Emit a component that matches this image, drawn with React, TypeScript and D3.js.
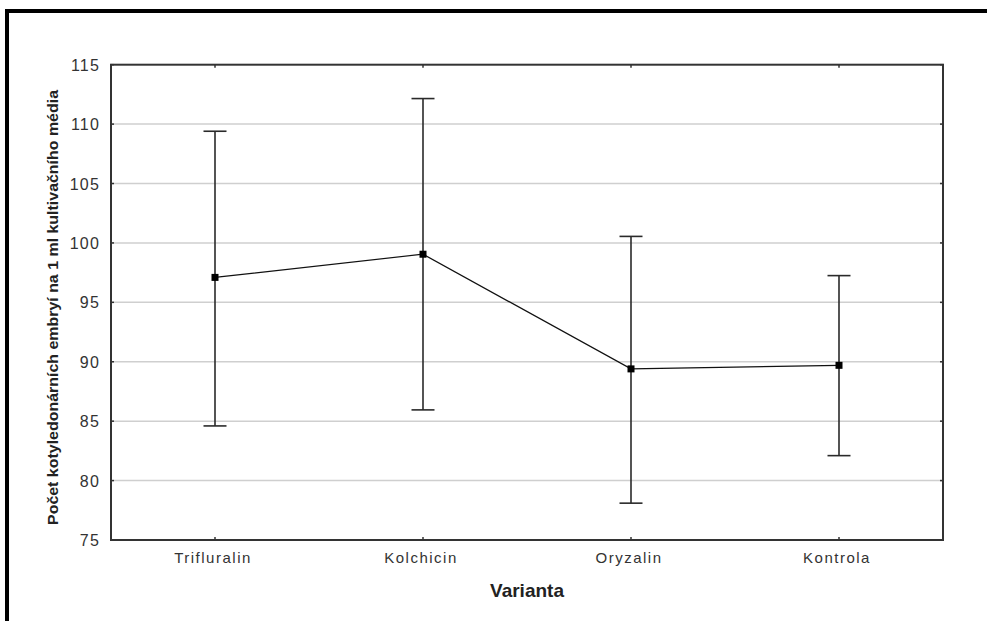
import React from "react";
import * as d3 from "d3";

const categories = ["Trifluralin", "Kolchicin", "Oryzalin", "Kontrola"];
const means = [97.1, 99.05, 89.4, 89.7];
const upper = [109.4, 112.15, 100.55, 97.25];
const lower = [84.6, 85.95, 78.1, 82.1];
const yTicks = [75, 80, 85, 90, 95, 100, 105, 110, 115];
const yTitle = "Počet kotyledonárních embryí na 1 ml kultivačního média";
const xTitle = "Varianta";

const W = 987;
const H = 621;
const left = 111;
const right = 943;
const top = 64.7;
const bottom = 540;

export default function App() {
  const x = d3.scalePoint<string>().domain(categories).range([left, right]).padding(0.5);
  const y = d3.scaleLinear().domain([75, 115]).range([bottom, top]);
  const line = d3
    .line<number>()
    .x((_, i) => x(categories[i]) as number)
    .y((d) => y(d));
  const textColor = "#333";
  const font = "Liberation Sans, Arial, sans-serif";
  const cap = 11.5;
  return (
    <svg
      width={W}
      height={H}
      style={{ position: "absolute", left: 0, top: 0, background: "#fff" }}
    >
      <rect x={0} y={0} width={W} height={H} fill="#fff" />
      {/* outer frame (top and left visible) */}
      <rect x={5} y={9} width={W - 5} height={4} fill="#000" />
      <rect x={5} y={9} width={4} height={H - 9} fill="#000" />

      {/* gridlines */}
      {yTicks.slice(1, -1).map((t) => (
        <line key={"g" + t} x1={left} x2={right} y1={y(t)} y2={y(t)} stroke="#cfcfcf" strokeWidth={1.5} />
      ))}

      {/* ticks inward */}
      {yTicks.map((t) => (
        <g key={"t" + t}>
          <line x1={left} x2={left + 3} y1={y(t)} y2={y(t)} stroke="#333" strokeWidth={1.5} />
          <line x1={right} x2={right - 3} y1={y(t)} y2={y(t)} stroke="#333" strokeWidth={1.5} />
          <text
            x={100}
            y={y(t) + 6}
            textAnchor="end"
            fontFamily={font}
            fontSize={16}
            letterSpacing={1.2}
            fill={textColor}
          >
            {t}
          </text>
        </g>
      ))}
      {categories.map((c) => (
        <g key={"xt" + c}>
          <line x1={x(c)} x2={x(c)} y1={bottom} y2={bottom - 3} stroke="#333" strokeWidth={1.5} />
          <line x1={x(c)} x2={x(c)} y1={top} y2={top + 3} stroke="#333" strokeWidth={1.5} />
          <text
            x={(x(c) as number) - 2}
            y={563}
            textAnchor="middle"
            fontFamily={font}
            fontSize={15}
            letterSpacing={1.5}
            fill={textColor}
          >
            {c}
          </text>
        </g>
      ))}

      {/* plot frame */}
      <rect x={left} y={top} width={right - left} height={bottom - top} fill="none" stroke="#333" strokeWidth={2} />

      {/* error bars */}
      {categories.map((c, i) => {
        const cx = x(c) as number;
        return (
          <g key={"e" + c} stroke="#2a2a2a" strokeWidth={1.6}>
            <line x1={cx} x2={cx} y1={y(upper[i])} y2={y(lower[i])} />
            <line x1={cx - cap} x2={cx + cap} y1={y(upper[i])} y2={y(upper[i])} />
            <line x1={cx - cap} x2={cx + cap} y1={y(lower[i])} y2={y(lower[i])} />
          </g>
        );
      })}

      {/* mean line */}
      <path d={line(means) || ""} fill="none" stroke="#111" strokeWidth={1.3} />
      {categories.map((c, i) => (
        <rect
          key={"m" + c}
          x={(x(c) as number) - 3.5}
          y={y(means[i]) - 3.5}
          width={7}
          height={7}
          fill="#000"
        />
      ))}

      {/* axis titles */}
      <text
        transform={`translate(58, 307.5) rotate(-90)`}
        textAnchor="middle"
        fontFamily={font}
        fontSize={14}
        fontWeight="bold"
        fill="#222"
        textLength={435}
        lengthAdjust="spacingAndGlyphs"
      >
        {yTitle}
      </text>
      <text
        x={527}
        y={597}
        textAnchor="middle"
        fontFamily={font}
        fontSize={19}
        fontWeight="bold"
        fill="#222"
      >
        {xTitle}
      </text>
    </svg>
  );
}
